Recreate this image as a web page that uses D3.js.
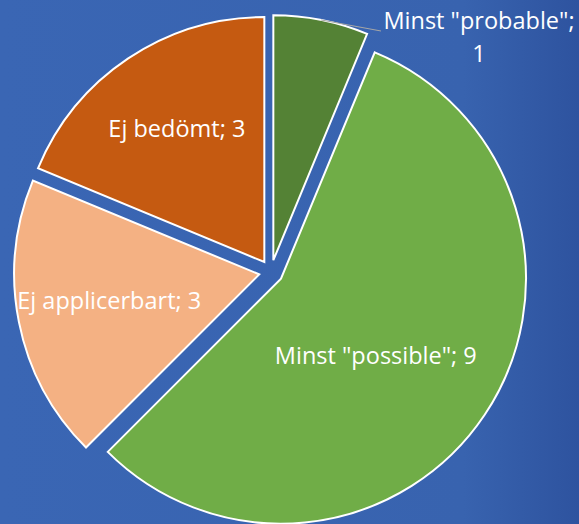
<!DOCTYPE html>
<html>
<head>
<meta charset="utf-8">
<script src="https://cdn.jsdelivr.net/npm/d3@7"></script>
<style>
  html, body { margin: 0; padding: 0; background: #3A66B4; }
  svg { display: block; }
</style>
</head>
<body>
<svg id="chart" width="579" height="524"></svg>
<script>
// ---- data ----
const categories = ['Minst "probable"', 'Minst "possible"', 'Ej applicerbart', 'Ej bedömt'];
const values = [1, 9, 3, 3];
const colors = ['#548235', '#70AD47', '#F4B183', '#C55A11'];

// ---- layout ----
const W = 579, H = 524;
const cx = 271, cy = 272, R = 245, explode = 12;
const fontFamily = '"Open Sans", "Noto Sans", sans-serif';
const fontSize = 23.5;

const svg = d3.select('#chart');
const defs = svg.append('defs');
const grad = defs.append('linearGradient').attr('id', 'bg').attr('x1', '0').attr('x2', '1').attr('y1', '0').attr('y2', '0');
grad.append('stop').attr('offset', '0%').attr('stop-color', '#3A66B4');
grad.append('stop').attr('offset', '80%').attr('stop-color', '#3863AF');
grad.append('stop').attr('offset', '100%').attr('stop-color', '#2E539F');
svg.append('rect').attr('width', W).attr('height', H).attr('fill', 'url(#bg)');

const data = categories.map((c, i) => ({ cat: c, value: values[i], color: colors[i] }));
const pie = d3.pie().sort(null).value(d => d.value).startAngle(0).endAngle(2 * Math.PI);
const arcs = pie(data);
const arc = d3.arc().innerRadius(0).outerRadius(R);

function offset(a, dist) {
  const m = (a.startAngle + a.endAngle) / 2;
  return [Math.sin(m) * dist, -Math.cos(m) * dist];
}

const g = svg.append('g').attr('transform', `translate(${cx},${cy})`);
g.selectAll('path.slice').data(arcs).enter().append('path')
  .attr('class', 'slice')
  .attr('d', arc)
  .attr('transform', d => { const o = offset(d, explode); return `translate(${o[0]},${o[1]})`; })
  .attr('fill', d => d.data.color)
  .attr('stroke', '#FFFFFF')
  .attr('stroke-width', 2)
  .attr('stroke-linejoin', 'miter');

// labels inside slices (radius fraction per slice)
const labelFrac = [null, 0.5, 0.62, 0.65];
const labelShift = [null, [-7, 9], [-1, -3], [1, -1]];
arcs.forEach((a, i) => {
  const txt = `${a.data.cat}; ${a.data.value}`;
  if (labelFrac[i] === null) return;
  const o = offset(a, explode + R * labelFrac[i]);
  g.append('text')
    .attr('x', o[0] + labelShift[i][0])
    .attr('y', o[1] + labelShift[i][1])
    .attr('dy', '0.35em')
    .attr('text-anchor', 'middle')
    .attr('fill', '#FFFFFF')
    .attr('font-family', fontFamily)
    .attr('font-size', fontSize)
    .text(txt);
});

// outside label for first slice with leader line
const a0 = arcs[0];
const edge = offset(a0, explode + R);
const lx = 479 - cx;
g.append('line')
  .attr('x1', edge[0]).attr('y1', edge[1])
  .attr('x2', 381 - cx).attr('y2', 31 - cy)
  .attr('stroke', '#A6A6A6').attr('stroke-width', 1);
const t = g.append('text')
  .attr('text-anchor', 'middle')
  .attr('fill', '#FFFFFF')
  .attr('font-family', fontFamily)
  .attr('font-size', fontSize);
t.append('tspan').attr('x', lx).attr('y', 29 - cy).text(`${a0.data.cat};`);
t.append('tspan').attr('x', lx).attr('y', 62 - cy).text(`${a0.data.value}`);
</script>
</body>
</html>
